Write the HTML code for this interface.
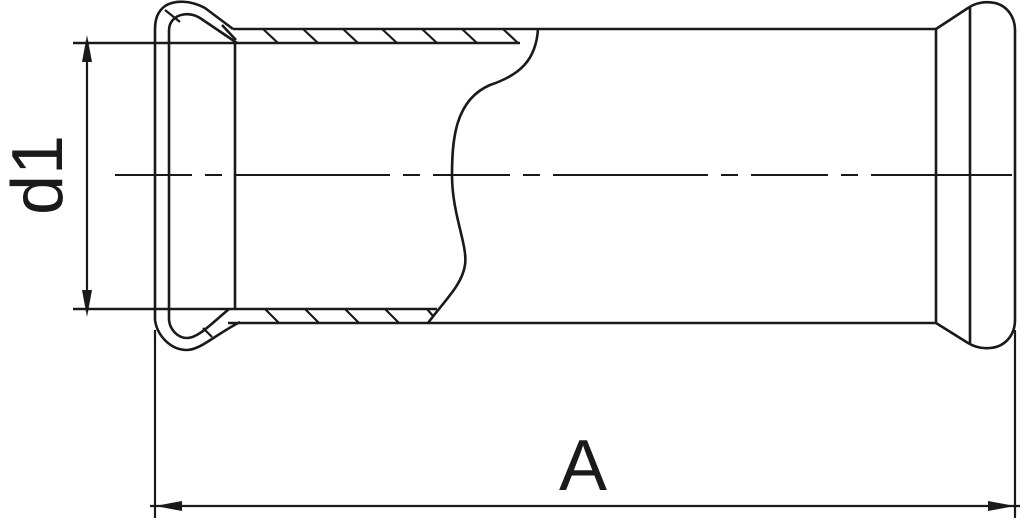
<!DOCTYPE html>
<html><head><meta charset="utf-8"><style>html,body{margin:0;padding:0;background:#fff}svg{display:block}</style></head>
<body>
<svg width="1024" height="523" viewBox="0 0 1024 523" xmlns="http://www.w3.org/2000/svg">
<g fill="none" stroke="#1a1a1a" stroke-width="2.6" stroke-linejoin="round" stroke-linecap="butt">
<!-- pipe lines -->
<line x1="233" y1="29" x2="936" y2="29"/>
<line x1="228" y1="323" x2="936" y2="323"/>
<line x1="73" y1="43" x2="520" y2="43"/>
<line x1="73" y1="309" x2="437" y2="309"/>
<line x1="235" y1="43" x2="235" y2="309"/>
<!-- break line -->
<path d="M538 29 C536 60 520 75 490 85 C455 100 452 140 452 175 C452 215 468 245 465 265 C462 285 445 300 428 323"/>
<!-- hatching top -->
<g stroke-width="2.2">
<line x1="263" y1="29" x2="278" y2="43"/>
<line x1="303" y1="29" x2="318" y2="43"/>
<line x1="343" y1="29" x2="358" y2="43"/>
<line x1="382" y1="29" x2="397" y2="43"/>
<line x1="422" y1="29" x2="437" y2="43"/>
<line x1="462" y1="29" x2="477" y2="43"/>
<line x1="503" y1="29" x2="518" y2="43"/>
<line x1="265" y1="309" x2="279" y2="323"/>
<line x1="305" y1="309" x2="319" y2="323"/>
<line x1="345" y1="309" x2="359" y2="323"/>
<line x1="385" y1="309" x2="399" y2="323"/>
<line x1="427" y1="309" x2="433" y2="316"/>
<line x1="165" y1="10" x2="180" y2="22"/>
<line x1="203" y1="328" x2="212" y2="337"/>
</g>
<!-- left bulb -->
<path d="M233 29 L205 8 C190 0 175 0 165 6 C157 12 155 20 155 30 L155 320 C157 335 170 350 187 350 C200 350 215 335 240 322"/>
<path d="M237 43 L200 18 C190 12 180 14 175 18 C170 22 169 26 169 32 L169 320 C170 330 178 338 187 338 C198 338 210 325 229 309"/>
<path d="M222 25 L236 40" />
<!-- right end -->
<line x1="936" y1="29" x2="936" y2="323"/>
<line x1="970" y1="7" x2="970" y2="343"/>
<path d="M936 29 L968 8 C975 3 985 1 995 3 C1008 6 1015 18 1015 30 L1015 320 C1015 335 1005 347 990 348 C980 349 973 346 968 343 L936 323"/>
<!-- centerline -->
<line x1="115" y1="175" x2="1012" y2="175" stroke-width="2" stroke-dasharray="77 13 17 13 155 13 17 13"/>
<!-- dim d1 -->
<line x1="87" y1="40" x2="87" y2="312" stroke-width="2.2"/>
<!-- dim A -->
<line x1="155" y1="330" x2="155" y2="518" stroke-width="2.2"/>
<line x1="1015" y1="330" x2="1015" y2="518" stroke-width="2.2"/>
<line x1="150" y1="506" x2="1020" y2="506" stroke-width="2.2"/>
</g>
<g fill="#1a1a1a">
<polygon points="87,35 82,62 92,62"/>
<polygon points="87,317 82,290 92,290"/>
<polygon points="155,506 182,501 182,511"/>
<polygon points="1015,506 988,501 988,511"/>
</g>
<text x="583" y="490" font-family="Liberation Sans, sans-serif" font-size="72" text-anchor="middle" fill="#1a1a1a">A</text>
<text transform="translate(62,175) rotate(-90)" font-family="Liberation Sans, sans-serif" font-size="72" text-anchor="middle" fill="#1a1a1a">d1</text>
</svg>
</body></html>
